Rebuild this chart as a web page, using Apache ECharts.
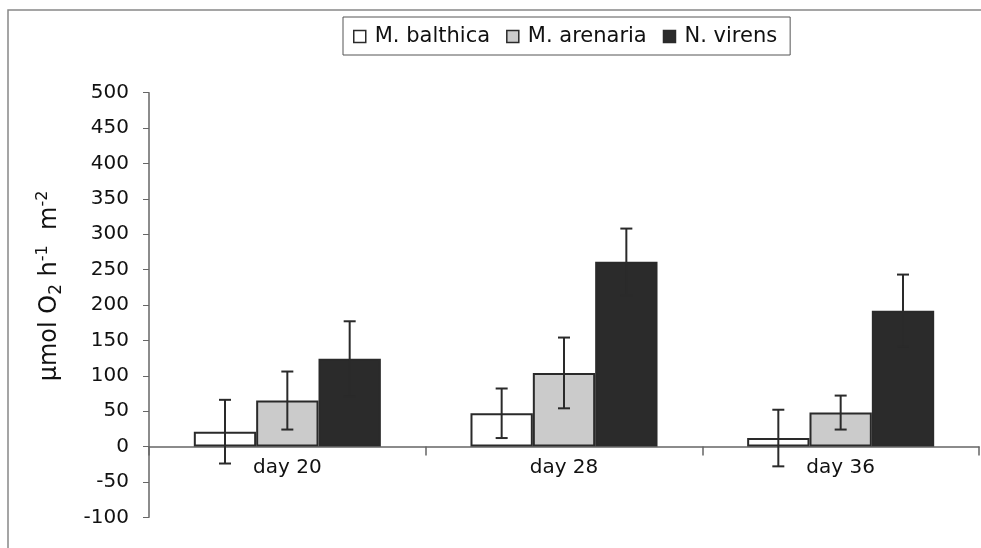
<!DOCTYPE html>
<html>
<head>
<meta charset="utf-8">
<script src="https://cdn.jsdelivr.net/npm/echarts@6/dist/echarts.min.js"></script>
<style>
html,body{margin:0;padding:0;background:#fff;}
#chart{width:981px;height:548px;}
</style>
</head>
<body>
<div id="chart"></div>
<script>
var categories = ['day 20', 'day 28', 'day 36'];
var seriesNames = ['M. balthica', 'M. arenaria', 'N. virens'];
var balthicaMean = [21, 47, 12];
var balthicaErr = [45, 35, 40];
var arenariaMean = [65, 104, 48];
var arenariaErr = [41, 50, 24];
var virensMean = [124, 261, 192];
var virensErr = [53, 47, 51];
var yTicks = [-100, 500, 50];

var FONT = 'DejaVu Sans';
var GAP = 0.324;
var means = [balthicaMean, arenariaMean, virensMean];
var errs = [balthicaErr, arenariaErr, virensErr];
var fills = ['#ffffff', '#cbcbcb', '#2b2b2b'];

function errRenderer(si) {
  return function (params, api) {
    var cat = api.value(0), val = api.value(1), err = api.value(2);
    var catW = api.size([1, 0])[0];
    var barW = catW * (1 - GAP) / 3;
    var off = (si - 1) * barW;
    var top = api.coord([cat, val + err]);
    var bot = api.coord([cat, val - err]);
    var x = top[0] + off;
    var hw = 6;
    var st = { stroke: '#2a2a2a', lineWidth: 2 };
    return {
      type: 'group',
      children: [
        { type: 'line', shape: { x1: x, y1: top[1], x2: x, y2: bot[1] }, style: st },
        { type: 'line', shape: { x1: x - hw, y1: top[1], x2: x + hw, y2: top[1] }, style: st },
        { type: 'line', shape: { x1: x - hw, y1: bot[1], x2: x + hw, y2: bot[1] }, style: st }
      ]
    };
  };
}

var series = [];
for (var i = 0; i < 3; i++) {
  series.push({
    name: seriesNames[i],
    type: 'bar',
    data: means[i],
    barGap: '0%',
    barCategoryGap: (GAP * 100) + '%',
    itemStyle: { color: fills[i], borderColor: '#2a2a2a', borderWidth: 2 },
    z: 2
  });
}
for (var j = 0; j < 3; j++) {
  var d = [];
  for (var k = 0; k < categories.length; k++) d.push([k, means[j][k], errs[j][k]]);
  series.push({
    name: seriesNames[j] + ' err',
    type: 'custom',
    renderItem: errRenderer(j),
    data: d,
    encode: { x: 0, y: 1 },
    z: 3,
    silent: true
  });
}

var chart = echarts.init(document.getElementById('chart'), null, { renderer: 'canvas' });
chart.setOption({
  animation: false,
  backgroundColor: '#ffffff',
  textStyle: { fontFamily: FONT },
  grid: { left: 149, right: 2, top: 92.7, bottom: 30.7, containLabel: false },
  legend: {
    data: seriesNames,
    left: 343,
    top: 17,
    orient: 'horizontal',
    icon: 'rect',
    itemWidth: 12,
    itemHeight: 12,
    itemGap: 16,
    padding: [9, 13, 8, 10],
    borderColor: '#555',
    borderWidth: 1,
    textStyle: { fontFamily: FONT, fontSize: 21, color: '#111', padding: [0, 0, 0, 4] },
    itemStyle: { borderColor: '#2a2a2a', borderWidth: 1.5 }
  },
  xAxis: {
    type: 'category',
    data: categories,
    axisLine: { onZero: true, lineStyle: { color: '#666', width: 1.5 } },
    axisTick: { show: true, length: 9, alignWithLabel: false, interval: 0, lineStyle: { color: '#666', width: 1.5 } },
    axisLabel: { fontFamily: FONT, fontSize: 20, color: '#111', margin: -60 },
    splitLine: { show: false }
  },
  yAxis: {
    type: 'value',
    min: yTicks[0],
    max: yTicks[1],
    interval: yTicks[2],
    axisLine: { show: true, onZero: false, lineStyle: { color: '#666', width: 1.5 } },
    axisTick: { show: true, length: 6, lineStyle: { color: '#666', width: 1 } },
    axisLabel: { fontFamily: FONT, fontSize: 20, color: '#111', margin: 20 },
    splitLine: { show: false }
  },
  graphic: [
    {
      type: 'rect',
      shape: { x: 8, y: 10, width: 1100, height: 700 },
      style: { fill: 'none', stroke: '#888', lineWidth: 1.5 },
      silent: true,
      z: -10
    },
    {
      type: 'text',
      x: 50,
      y: 286,
      rotation: Math.PI / 2,
      style: {
        text: '{n|μmol O}{sub|2}{n| h}{sup|-1}{n|  m}{sup|-2}',
        align: 'center',
        verticalAlign: 'middle',
        fill: '#111',
        rich: {
          n: { fontFamily: FONT, fontSize: 24, lineHeight: 30, verticalAlign: 'middle', fill: '#111' },
          sub: { fontFamily: FONT, fontSize: 17, lineHeight: 30, verticalAlign: 'bottom', fill: '#111' },
          sup: { fontFamily: FONT, fontSize: 16, lineHeight: 30, verticalAlign: 'top', fill: '#111' }
        }
      }
    }
  ],
  series: series
});
</script>
</body>
</html>
